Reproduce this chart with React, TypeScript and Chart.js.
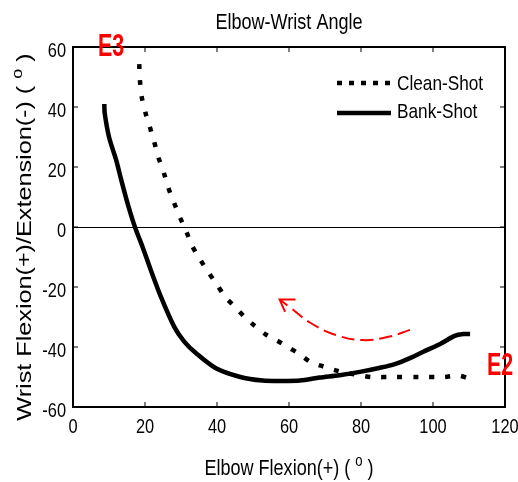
import React, { useEffect, useRef } from "react";
import { Chart, registerables } from "chart.js";

Chart.register(...registerables);

const xTicks = [0, 20, 40, 60, 80, 100, 120];
const yTicks = [-60, -40, -20, 0, 20, 40, 60];

const cleanX = [18.4, 18.6, 19.1, 20.2, 21.4, 22.6, 23.7, 25.3, 26.5, 28.1, 29.9, 31.5, 33.1, 35.3, 37.6, 39.9, 42.2, 45, 47.6, 50.5, 53.5, 56.5, 59.8, 62.6, 66, 69.5, 72.7, 76.3, 80, 83, 89.4, 96.4, 103, 107, 110];
const cleanY = [54.3, 48.8, 43.3, 37.8, 33.1, 28.2, 23.3, 17.8, 13, 8, 2.7, -1.6, -6.3, -10.8, -15.1, -19, -23.2, -26.6, -29.9, -33, -35.8, -37.7, -40.1, -42.1, -45, -46.5, -47.7, -48.7, -49.5, -50, -50, -50, -50, -49.5, -50.5];

const bankX = [8.7, 8.8, 10, 12, 13.4, 15.3, 17.2, 19.3, 21.6, 24.4, 28.1, 30.9, 34.2, 39.7, 46.2, 52.7, 58, 63, 68.5, 74, 79.7, 85, 89.4, 93.6, 97.8, 102, 106, 108.4, 110.3];
const bankY = [41, 38, 30, 22.3, 15.7, 7.3, 0, -6.6, -14.3, -23.2, -33.2, -38.2, -42.1, -47.1, -49.9, -51.2, -51.3, -51.2, -50.2, -49.4, -48.3, -47, -45.7, -43.7, -41.3, -39, -36.3, -35.7, -35.7];

const arrowX = [93.6, 88, 80.5, 73, 66, 60.5, 57.4];
const arrowY = [-34.3, -36.5, -37.7, -36, -32, -27, -24.2];
const headX = [61.8, 57.4, 58.9];
const headY = [-24.2, -24.2, -28.3];

const labels = { title: "Elbow-Wrist Angle", xTitle: "Elbow Flexion(+) ( ", yTitle: "Wrist Flexion(+)/Extension(-) ( " };
const seriesNames = ["Clean-Shot", "Bank-Shot"];
const markers = ["E3", "E2"];

const FONT = "'Liberation Sans', Arial, sans-serif";

const pts = (xs: number[], ys: number[]) => xs.map((x, i) => ({ x, y: ys[i] }));

function text(ctx: any, s: string, x: number, y: number, size: number, sx: number, align: string, weight = "normal", base = "alphabetic") {
  ctx.save();
  ctx.translate(x, y);
  ctx.scale(sx, 1);
  ctx.font = `${weight} ${size}px ${FONT}`;
  ctx.textAlign = align;
  ctx.textBaseline = base;
  ctx.fillText(s, 0, 0);
  ctx.restore();
}

function titleWithDeg(ctx: any, s: string, cx: number, y: number, size: number, sx: number) {
  ctx.font = `${size}px ${FONT}`;
  const w1 = ctx.measureText(s).width * sx;
  const w3 = ctx.measureText(" )").width * sx;
  ctx.font = `${Math.round(size * 0.72)}px ${FONT}`;
  const w2 = ctx.measureText("o").width * sx;
  let x = cx - (w1 + w2 + w3) / 2;
  text(ctx, s, x, y, size, sx, "left");
  x += w1;
  text(ctx, "o", x, y - size * 0.42, Math.round(size * 0.72), sx, "left");
  x += w2;
  text(ctx, " )", x, y, size, sx, "left");
}

const decorPlugin = {
  id: "decor",
  afterDraw(chart: any) {
    const ctx = chart.ctx;
    const { left, right, top, bottom } = chart.chartArea;
    const xs = chart.scales.x;
    const ys = chart.scales.y;
    ctx.save();
    ctx.strokeStyle = "#000";
    ctx.fillStyle = "#000";
    ctx.lineWidth = 1;
    const zy = Math.round(ys.getPixelForValue(0)) + 0.5;
    ctx.beginPath();
    ctx.moveTo(left, zy);
    ctx.lineTo(right, zy);
    ctx.stroke();
    ctx.lineWidth = 2;
    ctx.strokeRect(left, top, right - left, bottom - top);
    ctx.lineWidth = 1;
    xTicks.forEach((v) => {
      const p = xs.getPixelForValue(v);
      ctx.beginPath();
      ctx.moveTo(p, bottom);
      ctx.lineTo(p, bottom - 5);
      ctx.moveTo(p, top);
      ctx.lineTo(p, top + 5);
      ctx.stroke();
      text(ctx, String(v), p, 433, 21, 0.78, "center");
    });
    yTicks.forEach((v) => {
      const p = ys.getPixelForValue(v);
      ctx.beginPath();
      ctx.moveTo(left, p);
      ctx.lineTo(left + 5, p);
      ctx.moveTo(right, p);
      ctx.lineTo(right - 5, p);
      ctx.stroke();
      text(ctx, String(v), 66, p + 4, 21, 0.78, "right", "normal", "middle");
    });
    const cx = (left + right) / 2;
    text(ctx, labels.title, cx, 29, 22, 0.82, "center");
    titleWithDeg(ctx, labels.xTitle, cx, 475, 22, 0.82);
    ctx.save();
    ctx.translate(31, 237);
    ctx.rotate(-Math.PI / 2);
    titleWithDeg(ctx, labels.yTitle, 0, 0, 21, 1.2);
    ctx.restore();
    // legend
    ctx.lineWidth = 4.5;
    ctx.setLineDash([5, 7]);
    ctx.beginPath();
    ctx.moveTo(337, 83);
    ctx.lineTo(391, 83);
    ctx.stroke();
    ctx.setLineDash([]);
    ctx.beginPath();
    ctx.moveTo(337, 113);
    ctx.lineTo(391, 113);
    ctx.stroke();
    text(ctx, seriesNames[0], 397, 90, 21, 0.82, "left");
    text(ctx, seriesNames[1], 397, 118, 21, 0.82, "left");
    ctx.fillStyle = "#ff0000";
    text(ctx, markers[0], 98, 56, 32, 0.67, "left", "bold");
    text(ctx, markers[1], 487, 375, 32, 0.67, "left", "bold");
    ctx.restore();
  },
};

export default function App() {
  const ref = useRef<HTMLCanvasElement>(null);
  useEffect(() => {
    const chart = new Chart(ref.current!, {
      type: "line",
      data: {
        datasets: [
          {
            label: seriesNames[0],
            data: pts(cleanX, cleanY),
            borderColor: "#000",
            borderWidth: 4.5,
            borderDash: [5, 11],
            borderCapStyle: "butt",
            pointRadius: 0,
            tension: 0.3,
          },
          {
            label: seriesNames[1],
            data: pts(bankX, bankY),
            borderColor: "#000",
            borderWidth: 4.5,
            pointRadius: 0,
            tension: 0.3,
          },
          {
            label: "arrow",
            data: pts(arrowX, arrowY),
            borderColor: "#ff0000",
            borderWidth: 2,
            borderDash: [13, 6],
            pointRadius: 0,
            tension: 0.4,
          },
          {
            label: "head",
            data: pts(headX, headY),
            borderColor: "#ff0000",
            borderWidth: 2,
            pointRadius: 0,
            tension: 0,
          },
        ],
      },
      options: {
        animation: false,
        responsive: false,
        layout: { padding: { top: 47, right: 13, left: 0, bottom: 0 } },
        plugins: { legend: { display: false }, tooltip: { enabled: false } },
        scales: {
          x: {
            type: "linear",
            min: 0,
            max: 120,
            afterBuildTicks: (s: any) => {
              s.ticks = xTicks.map((v) => ({ value: v }));
            },
            afterFit: (s: any) => {
              s.height = 75;
            },
            grid: { display: false, drawTicks: false },
            border: { display: false },
            ticks: { display: false },
          },
          y: {
            type: "linear",
            min: -60,
            max: 60,
            afterBuildTicks: (s: any) => {
              s.ticks = yTicks.map((v) => ({ value: v }));
            },
            afterFit: (s: any) => {
              s.width = 73;
            },
            grid: { display: false, drawTicks: false },
            border: { display: false },
            ticks: { display: false },
          },
        },
      },
      plugins: [decorPlugin],
    } as any);
    return () => chart.destroy();
  }, []);
  return (
    <div style={{ position: "absolute", left: 0, top: 0 }}>
      <canvas ref={ref} width={518} height={482} />
    </div>
  );
}
